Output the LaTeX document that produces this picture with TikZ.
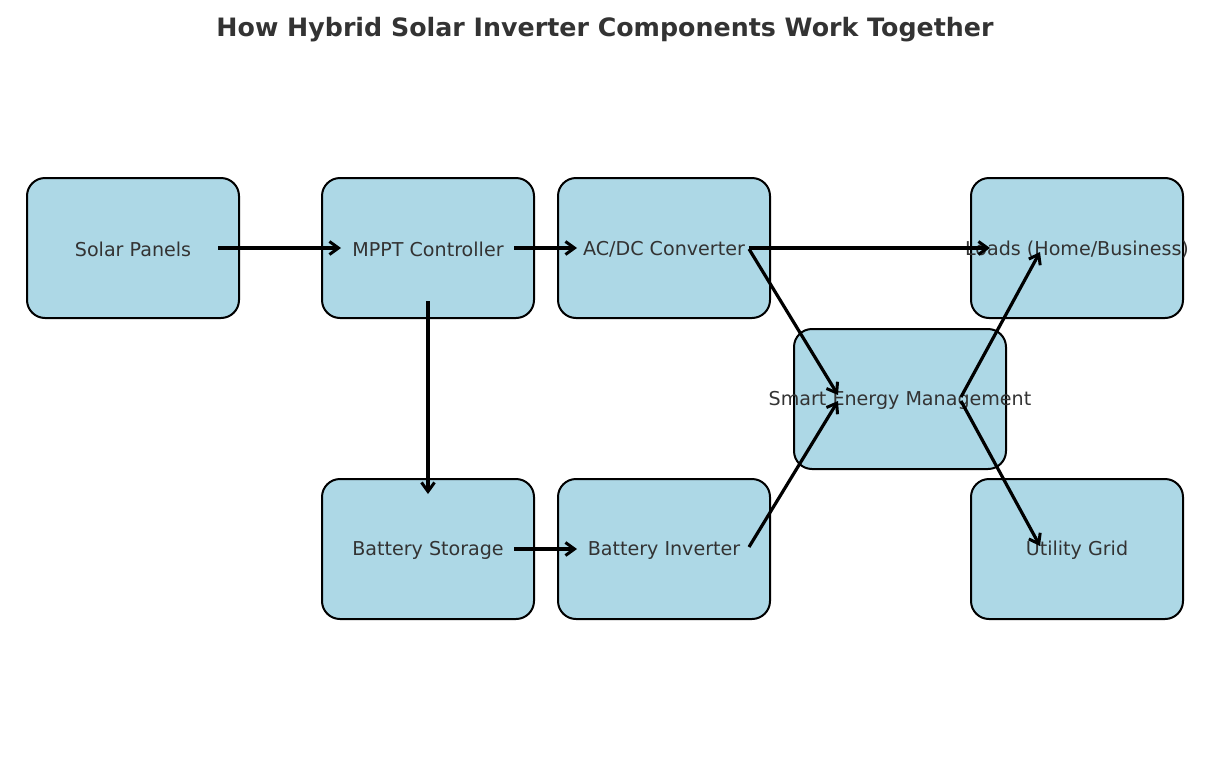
\documentclass[tikz,border=0pt]{standalone}
\usepackage{fontspec}
\setmainfont{DejaVu Sans}
\usetikzlibrary{arrows.meta,calc}
\definecolor{boxfill}{HTML}{ADD8E6}
\definecolor{txt}{HTML}{333333}
\tikzset{
  comp/.style={draw=black, line width=2pt, fill=boxfill, rounded corners=18pt,
    minimum width=212pt, minimum height=140pt, inner sep=0pt, outer sep=0pt},
  lbl/.style={text=txt, font=\fontsize{19.1pt}{22pt}\selectfont, inner sep=0pt, yshift=-1.5pt},
  flow/.style={draw=black, line width=3.2pt, -{Straight Barb[length=9pt,width=13pt,line width=3pt]}},
}
\begin{document}
\begin{tikzpicture}[x=1pt,y=-1pt]
\useasboundingbox (0,0) rectangle (1210,766);
\node[text=txt, font=\bfseries\fontsize{25.3pt}{30pt}\selectfont] (title) at (605,30) {How Hybrid Solar Inverter Components Work Together};
% boxes
\node[comp] (solar) at (133,248) {};
\node[comp] (mppt) at (428,248) {};
\node[comp] (acdc) at (664,248) {};
\node[comp] (loads) at (1077,248) {};
\node[comp] (sem) at (900,399) {};
\node[comp] (bats) at (428,549) {};
\node[comp] (bati) at (664,549) {};
\node[comp] (grid) at (1077,549) {};
% labels
\node[lbl] (solarL) at (solar.center) {Solar Panels};
\node[lbl] (mpptL) at (mppt.center) {MPPT Controller};
\node[lbl] (acdcL) at (acdc.center) {AC/DC Converter};
\node[lbl] (loadsL) at (loads.center) {Loads (Home/Business)};
\node[lbl] (semL) at (sem.center) {Smart Energy Management};
\node[lbl] (batsL) at (bats.center) {Battery Storage};
\node[lbl] (batiL) at (bati.center) {Battery Inverter};
\node[lbl] (gridL) at (grid.center) {Utility Grid};
% arrows
\draw[flow] ($(solar.center)+(85,0)$) -- ($(mppt.center)+(-87,0)$);
\draw[flow] ($(mppt.center)+(86,0)$) -- ($(acdc.center)+(-87,0)$);
\draw[flow] ($(acdc.center)+(85,0)$) -- ($(loads.center)+(-87,0)$);
\draw[flow] ($(mppt.center)+(0,53)$) -- ($(bats.center)+(0,-55)$);
\draw[flow] ($(bats.center)+(86,0)$) -- ($(bati.center)+(-87,0)$);
\draw[flow] ($(acdc.center)+(85,1)$) -- ($(sem.center)+(-62,-4)$);
\draw[flow] ($(bati.center)+(85,-2)$) -- ($(sem.center)+(-62,2)$);
\draw[flow] ($(sem.center)+(61,-2)$) -- ($(loads.center)+(-37,4)$);
\draw[flow] ($(sem.center)+(61,2)$) -- ($(grid.center)+(-37,-3)$);
\end{tikzpicture}
\end{document}
